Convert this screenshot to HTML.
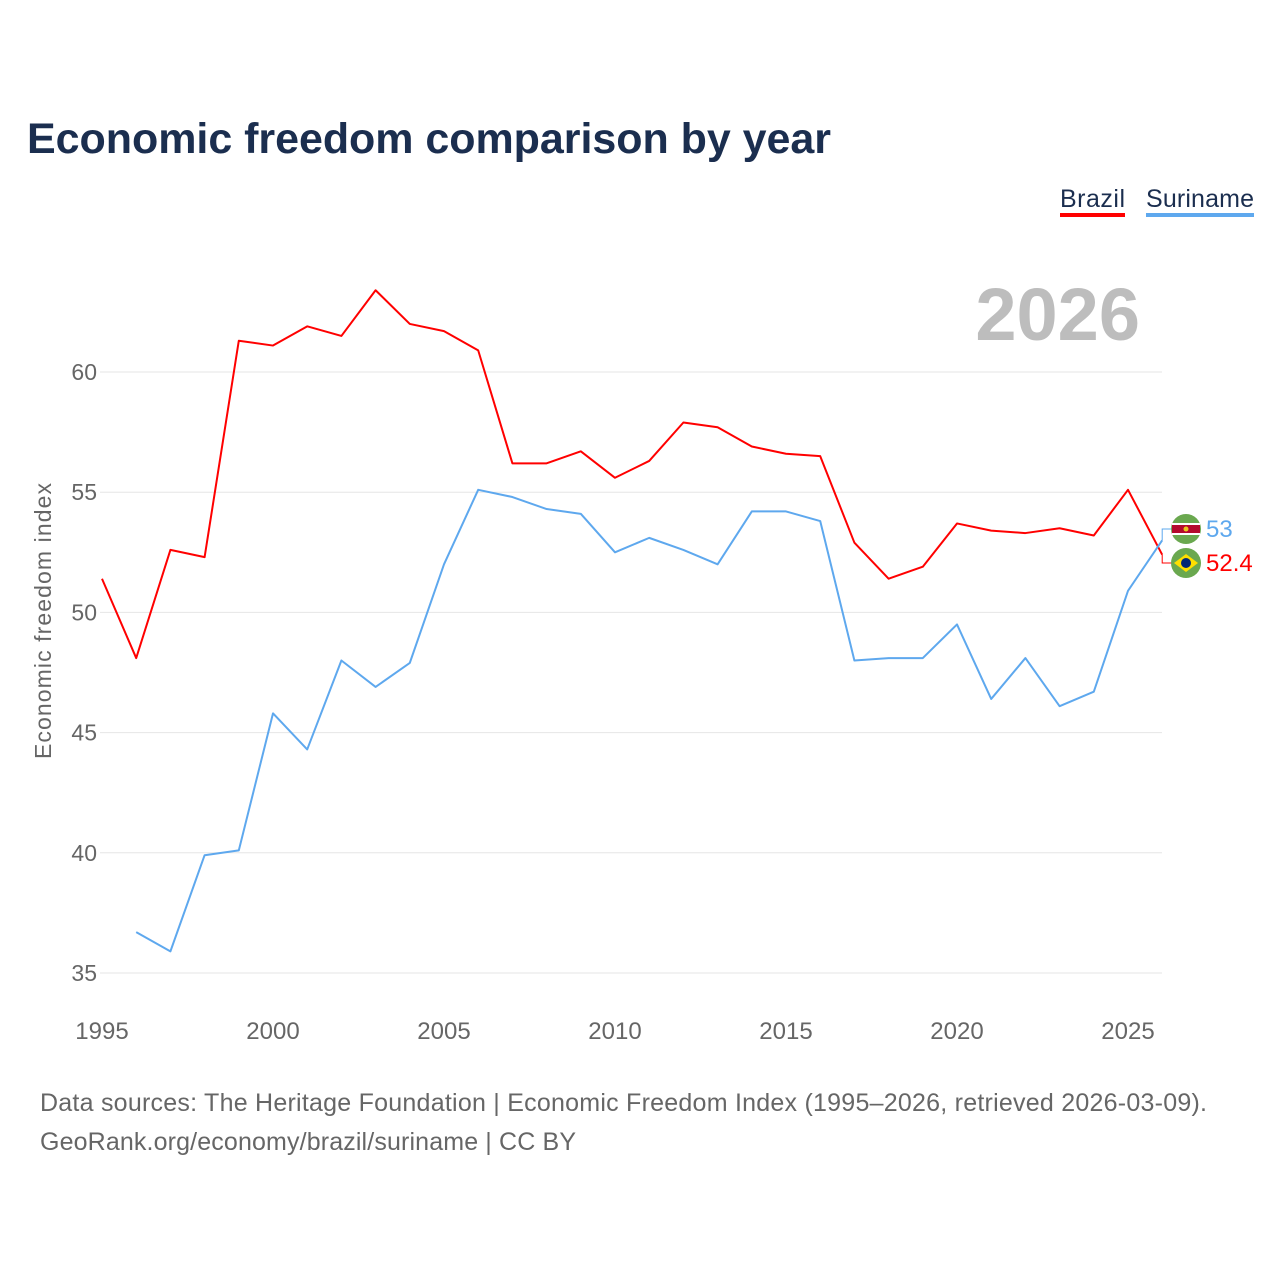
<!DOCTYPE html>
<html><head><meta charset="utf-8"><style>
body{margin:0;background:#fff;font-family:"Liberation Sans",sans-serif;}
#wrap{position:relative;width:1280px;height:1280px;overflow:hidden;}
</style></head><body>
<div id="wrap">
<svg id="chart" width="1280" height="1280">
<text x="27" y="153" font-size="43" font-weight="bold" fill="#1b2e4f" textLength="804">Economic freedom comparison by year</text>
<g>
<text x="1060" y="207" font-size="25" fill="#1b2e4f" textLength="65">Brazil</text>
<rect x="1060" y="213" width="65" height="4" fill="#f00"/>
<text x="1146" y="207" font-size="25" fill="#1b2e4f" textLength="108">Suriname</text>
<rect x="1146" y="213" width="108" height="4" fill="#5ea8ee"/>
</g>
<text x="1140" y="340" text-anchor="end" font-size="74" font-weight="bold" fill="#bdbdbd">2026</text>
<text transform="translate(51,621) rotate(-90)" text-anchor="middle" font-size="23" fill="#666" textLength="276">Economic freedom index</text>
<g id="grid"></g><g id="series"></g><g id="ends"></g>
<text x="40" y="1111" font-size="25" fill="#666" textLength="1167">Data sources: The Heritage Foundation | Economic Freedom Index (1995–2026, retrieved 2026-03-09).</text>
<text x="40" y="1150" font-size="25" fill="#666" textLength="536">GeoRank.org/economy/brazil/suriname | CC BY</text>
</svg>
</div>
<script>
const years=[1995,1996,1997,1998,1999,2000,2001,2002,2003,2004,2005,2006,2007,2008,2009,2010,2011,2012,2013,2014,2015,2016,2017,2018,2019,2020,2021,2022,2023,2024,2025,2026];
const brazil=[51.4,48.1,52.6,52.3,61.3,61.1,61.9,61.5,63.4,62.0,61.7,60.9,56.2,56.2,56.7,55.6,56.3,57.9,57.7,56.9,56.6,56.5,52.9,51.4,51.9,53.7,53.4,53.3,53.5,53.2,55.1,52.4];
const suriname=[null,36.7,35.9,39.9,40.1,45.8,44.3,48.0,46.9,47.9,52.0,55.1,54.8,54.3,54.1,52.5,53.1,52.6,52.0,54.2,54.2,53.8,48.0,48.1,48.1,49.5,46.4,48.1,46.1,46.7,50.9,53.0];
const yTicks=[35,40,45,50,55,60];
const xTicks=[1995,2000,2005,2010,2015,2020,2025];
const NS="http://www.w3.org/2000/svg";
const X=y=>102+(y-1995)*34.2;
const Y=v=>372+(60-v)*24.04;
function mk(t,a,p){const e=document.createElementNS(NS,t);for(const k in a)e.setAttribute(k,a[k]);p.appendChild(e);return e;}
const grid=document.getElementById('grid');
yTicks.forEach(v=>{
 const l=mk('line',{x1:100,x2:1162,y1:Y(v),y2:Y(v),stroke:'#e6e6e6','stroke-width':1},grid);
 
 
 const t=mk('text',{x:97,y:Y(v)+8,'text-anchor':'end','font-size':23,fill:'#666'},grid);
 t.textContent=v;
 
 
});
xTicks.forEach(v=>{
 const t=mk('text',{x:X(v),y:1039,'text-anchor':'middle','font-size':24,fill:'#666'},grid);
 t.textContent=v;
 
 
});
const ser=document.getElementById('series');
function line(vals,color,name){
 let d='';vals.forEach((v,i)=>{if(v==null)return;d+=(d?'L':'M')+X(years[i])+','+Y(v);});
 const p=mk('path',{d:d,fill:'none',stroke:color,'stroke-width':2,'stroke-linejoin':'round'},ser);
 
 
}
line(brazil,'#f00','line-brazil');
line(suriname,'#5ea8ee','line-suriname');
const ends=document.getElementById('ends');
function endLabel(v,ly,color,name,flag){
 const x=X(2026);
 const c=mk('path',{d:`M${x},${Y(v)}H${x}V${ly}H1172`,fill:'none',stroke:color,'stroke-width':1},ends);
 
 
 const g=mk('g',{},ends);
 
 
 mk('circle',{cx:1186,cy:ly,r:15,fill:'#6aa84f'},g);
 if(flag==='sr'){mk('rect',{x:1172,y:ly-6,width:28,height:12,fill:'#fff'},g);mk('rect',{x:1172,y:ly-4,width:28,height:8,fill:'#b40a2d'},g);mk('circle',{cx:1186,cy:ly,r:2.5,fill:'#ecc81d'},g);}
 else{mk('polygon',{points:`1174,${ly} 1186,${ly-9} 1198,${ly} 1186,${ly+9}`,fill:'#fedf00'},g);mk('circle',{cx:1186,cy:ly,r:5,fill:'#002776'},g);}
 const t=mk('text',{x:1206,y:ly+8,'font-size':24,fill:color},ends);
 t.textContent=v;
 
 
}
endLabel(suriname[31],529,'#5ea8ee','end-suriname','sr');
endLabel(brazil[31],563,'#f00','end-brazil','br');
</script>
</body></html>
